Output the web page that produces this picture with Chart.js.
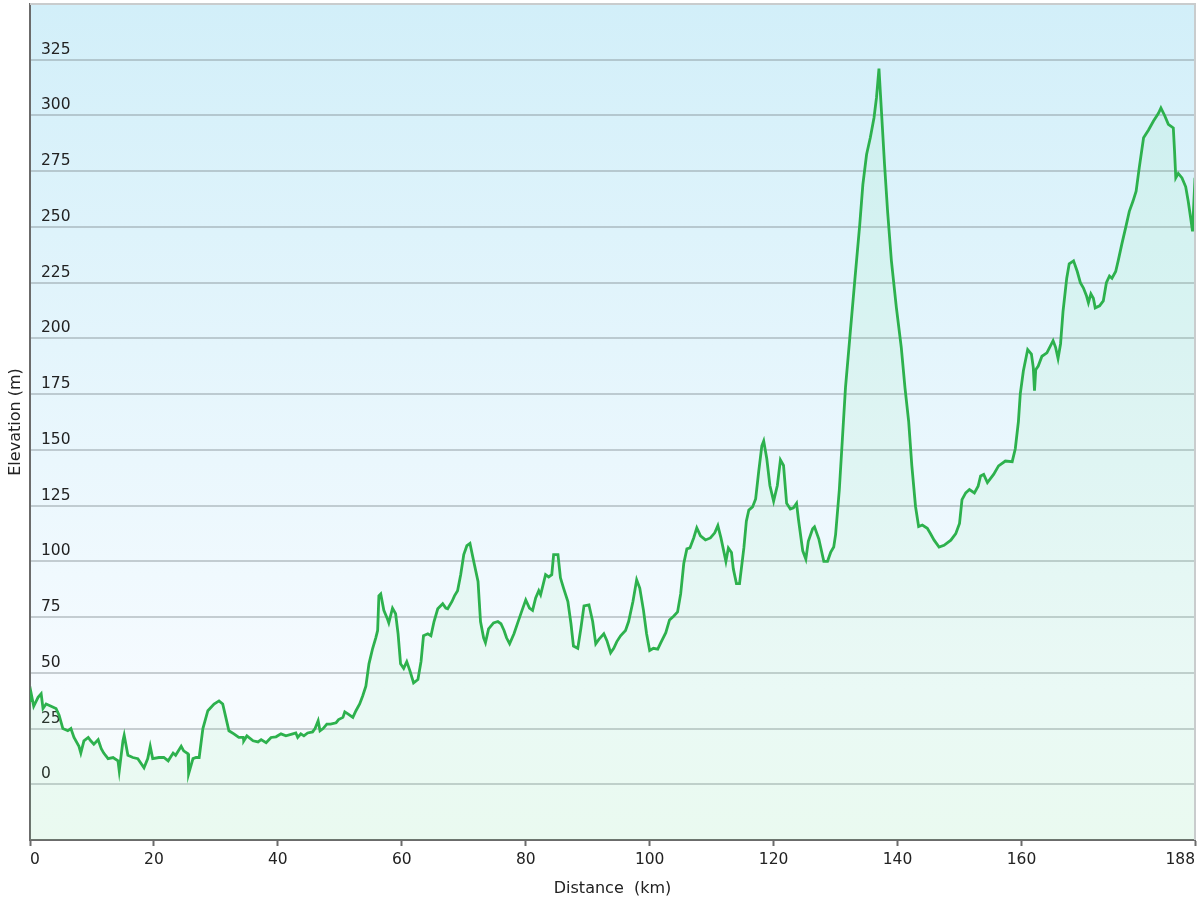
<!DOCTYPE html>
<html><head><meta charset="utf-8">
<script src="https://cdn.jsdelivr.net/npm/chart.js@4.4.1/dist/chart.umd.min.js"></script>
<style>html,body{margin:0;padding:0;background:#fff;}canvas{display:block;}</style>
</head><body>
<canvas id="c" width="1200" height="900" style="width:1200px;height:900px"></canvas>
<script>
const distanceKm = [
0,0.2,0.6,1.3,1.8,2.1,2.6,3.4,4.2,4.7,
5.3,6.1,6.6,7.1,7.9,8.2,8.7,9.4,9.8,10.3,
11.0,11.5,11.9,12.6,13.4,14.2,14.4,15.0,15.2,15.8,
16.6,17.4,18.4,19.0,19.4,19.8,20.8,21.6,22.3,23.1,
23.5,24.4,24.8,25.5,25.6,26.3,26.8,27.3,27.9,28.7,
29.7,30.5,31.1,31.6,32.1,32.9,33.7,34.4,34.5,35.0,
36.0,36.8,37.3,38.1,38.9,39.7,40.5,41.3,42.4,42.9,
43.2,43.7,44.2,44.8,45.6,46.0,46.5,46.8,47.3,47.9,
48.5,49.4,49.8,50.5,50.8,51.3,52.1,52.6,53.2,53.7,
54.2,54.7,55.3,55.8,56.1,56.3,56.6,57.1,57.7,57.9,
58.5,59.0,59.4,59.8,60.3,60.8,61.3,61.9,62.6,63.1,
63.5,64.2,64.7,65.2,65.8,66.6,67.1,67.4,68.1,68.5,
69.0,69.5,70.0,70.5,71.0,71.6,72.3,72.7,73.2,73.5,
74.0,74.8,75.5,76.0,76.5,76.9,77.4,78.1,78.7,79.4,
80.0,80.6,81.1,81.6,82.1,82.4,83.2,83.7,84.2,84.5,
85.2,85.6,86.1,86.8,87.3,87.7,88.4,88.9,89.4,90.2,
90.8,91.3,91.8,92.6,93.1,93.7,94.2,94.7,95.3,96.1,
96.6,97.3,97.9,98.4,99.0,99.5,100.0,100.6,101.3,101.8,
102.6,103.2,103.9,104.5,105.0,105.5,106.0,106.5,107.1,107.6,
108.2,109.0,109.8,110.5,111.0,111.5,112.3,112.7,113.2,113.5,
114.0,114.5,115.2,115.6,116.0,116.6,117.1,117.6,118.1,118.4,
118.9,119.4,120.0,120.6,121.1,121.6,122.1,122.7,123.2,123.7,
124.0,124.7,125.2,125.6,126.3,126.6,127.3,128.1,128.7,129.2,
129.7,130.0,130.6,131.1,131.6,132.3,133.1,133.9,134.4,135.0,
135.6,136.2,136.6,137.0,137.4,137.9,138.4,139.0,139.8,140.6,
141.2,141.8,142.3,142.9,143.4,144.0,144.8,145.3,145.9,146.7,
147.5,148.6,149.4,150.0,150.4,151.0,151.6,152.4,153.0,153.4,
153.9,154.5,155.5,156.3,157.4,158.5,159.0,159.5,159.8,160.3,
161.0,161.6,161.9,162.1,162.3,162.7,163.3,164.1,165.1,165.5,
165.9,166.3,166.7,167.3,167.7,168.4,169.0,169.5,170.0,170.5,
170.8,171.2,171.6,171.9,172.6,173.2,173.7,174.2,174.6,175.2,
175.6,176.2,176.8,177.4,178.0,178.5,179.0,179.7,180.5,181.3,
182.1,182.5,183.1,183.7,184.5,184.7,184.9,185.3,185.9,186.5,
186.9,187.3,187.6,188.0
];
const elevationM = [
37,40.6,35,39,40.6,34,36,35,34,31,
25,24,25,21,17,14,19.5,21,19.5,18,
20,16,14,11.5,12,10.5,6,19.5,22,13,
12,11.5,7.4,11.5,17,11.5,12,12,10.5,14,
13,17,15,13.7,4.7,11.5,12,12,25,33,
36,37.4,36,30,24,22.6,21,21,19.5,21.7,
19.5,19,20,18.6,21,21.3,22.6,21.7,22.6,23,
21,22.6,21.7,23,23.5,25,28.5,24,25,27,
27,27.6,29,30,32.5,31.6,30,33,36,39.7,
44,54,61,65.7,69,84.5,85.4,78,74,72.4,
79,76.5,67.5,54,52,55,51,45.5,47,55,
66.6,67.5,66.6,73,78.7,81,79,78.7,82,84.5,
86.8,94,103,107,108,100,91,73,65.7,63.5,
69.7,72.4,73,72,69,65.7,63,67.5,72.4,78,
82.7,79,78,83.6,86.8,85,94,93,94,103,
103,92.6,88,82,72,62,61,70,80,80.5,
73,63,65,67.5,64.4,59,61,64,66.6,69,
73,82,91.7,88,78,67.5,60,61,60.6,63.5,
68,73.7,75.5,77.3,85.4,99,105.6,106,110.5,115,
111.4,109.6,110.5,112.8,116,110.5,100,106,104,96.6,
90,90,106,118,123,124.4,128,140.5,151.8,154,
146,134,127,134,145.5,143,126,123.5,124,126,
119,104.7,101,109,114.6,115.5,110,100,100,104,
106.4,112,132,155,178,200.5,226,251,269,282.5,
290,299,308,321,302,278,256.7,235,214,196,
177.8,162.6,143,124.6,115.6,116.3,114.8,112.5,109.5,106.4,
107.2,109.5,112.5,117,127.7,130.7,132.2,130.7,133.7,138.3,
139,135.3,139,142.8,145,144.7,150.5,162.6,175,185.4,
195,193,187,176.5,186,187.6,192,193.5,199,196,
191,197.5,212,227,233.5,234.8,230,225,222.6,219,
216,220,218,213.7,214.6,216.8,225,228,227,230,
234.8,242.4,249.6,257,261.6,266,276.5,290,293.5,297.5,
301,303.4,300,296,294.4,284,272,274,272,268,
261.6,254,248,272
];
const xTickValues = [0,20,40,60,80,100,120,140,160,188];
const xMin = 0, xMax = 188;
const yMin = -25, yMax = 350, yStep = 25;
const yLabelMin = 0, yLabelMax = 325;
const xTitle = 'Distance  (km)';
const yTitle = 'Elevation (m)';

const bgPlugin = {
  id: 'bg',
  beforeDraw(chart) {
    const {ctx, chartArea: a} = chart;
    const g = ctx.createLinearGradient(0, a.top, 0, a.bottom);
    g.addColorStop(0, '#d2eff9');
    g.addColorStop(0.82, '#f6fbff');
    g.addColorStop(1, '#f6fcfa');
    ctx.save();
    ctx.fillStyle = g;
    ctx.fillRect(a.left, a.top, a.right - a.left, a.bottom - a.top);
    ctx.restore();
  },
  afterDraw(chart) {
    const {ctx, chartArea: a} = chart;
    ctx.save();
    ctx.strokeStyle = '#c9cccd';
    ctx.lineWidth = 2;
    ctx.beginPath();
    ctx.moveTo(a.left, a.top);
    ctx.lineTo(a.right, a.top);
    ctx.lineTo(a.right, a.bottom);
    ctx.stroke();
    ctx.restore();
  }
};

const font = 'DejaVu Sans';
new Chart(document.getElementById('c').getContext('2d'), {
  type: 'line',
  data: {
    datasets: [{
      data: distanceKm.map((d, i) => ({x: d, y: elevationM[i]})),
      borderColor: '#2db14d',
      borderWidth: 2.8,
      pointRadius: 0,
      tension: 0,
      fill: 'start',
      backgroundColor: 'rgba(120,235,140,0.09)'
    }]
  },
  options: {
    responsive: false,
    animation: false,
    devicePixelRatio: 1,
    layout: {padding: {top: 4, right: 5, left: 0, bottom: 0}},
    plugins: {legend: {display: false}, tooltip: {enabled: false}},
    scales: {
      x: {
        type: 'linear', min: xMin, max: xMax,
        afterBuildTicks: s => { s.ticks = xTickValues.map(v => ({value: v})); },
        afterFit: s => { s.height = 60; s.paddingLeft = 0; s.paddingRight = 0; },
        grid: {drawOnChartArea: false, drawTicks: true, tickLength: 6, tickColor: '#6b6b6b', tickWidth: 2},
        border: {color: '#6b6b6b', width: 2},
        ticks: {align: 'inner', color: '#222', font: {family: font, size: 15.5}, padding: 5, maxRotation: 0, autoSkip: false},
        title: {display: true, text: xTitle, color: '#222', font: {family: font, size: 16}, padding: {top: 0, bottom: 2}}
      },
      y: {
        min: yMin, max: yMax,
        afterFit: s => { s.width = 30; s.paddingTop = 0; s.paddingBottom = 0; },
        grid: {color: 'rgba(120,132,138,0.38)', lineWidth: 2, drawTicks: false},
        border: {color: '#6b6b6b', width: 2},
        ticks: {
          stepSize: yStep, mirror: true, padding: 11, labelOffset: -10, autoSkip: false,
          color: '#222', font: {family: font, size: 15.5},
          callback: v => (v < yLabelMin || v > yLabelMax) ? '' : String(v)
        },
        title: {display: true, text: yTitle, color: '#222', font: {family: font, size: 16}, padding: {top: 6, bottom: 0}}
      }
    }
  },
  plugins: [bgPlugin]
});
</script>
</body></html>
